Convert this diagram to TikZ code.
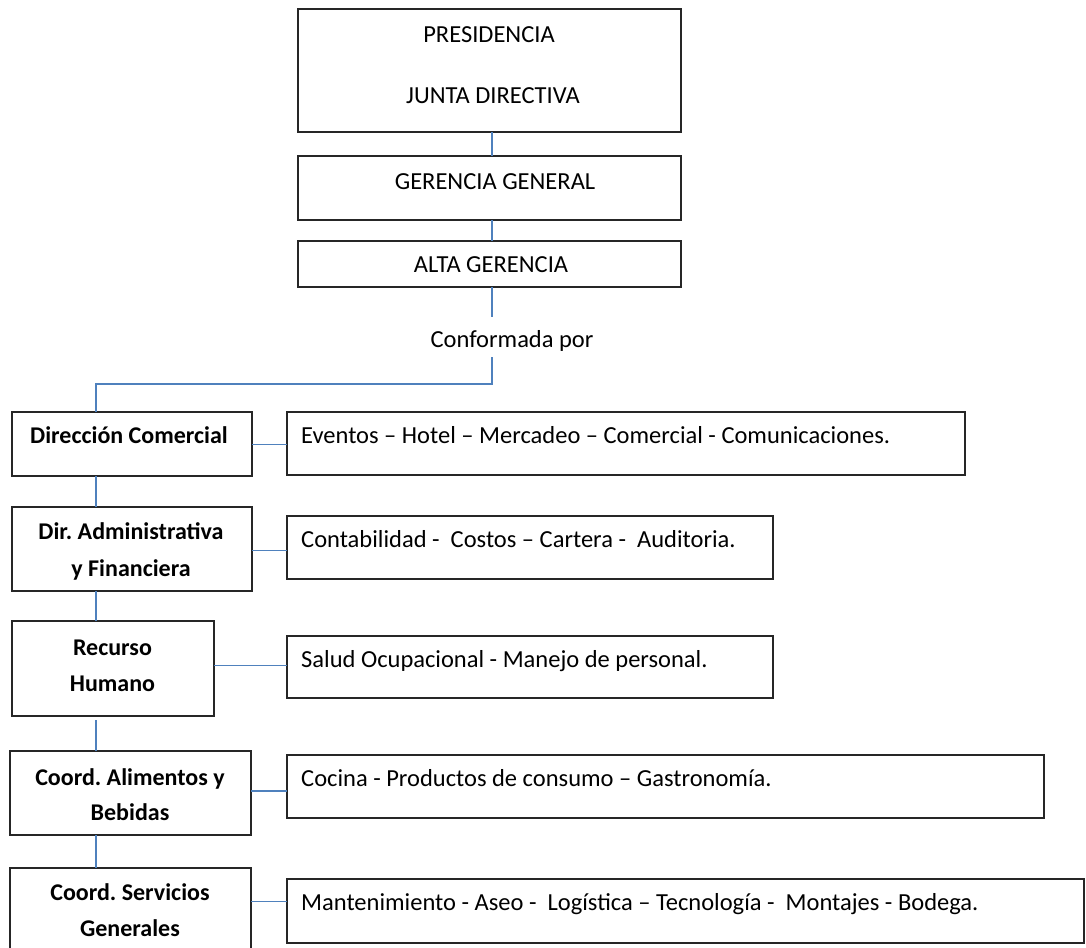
\documentclass[tikz,border=0pt]{standalone}
\usepackage{fontspec}
\setmainfont{Carlito}
\definecolor{linkblue}{HTML}{4F81BD}
\definecolor{boxgray}{HTML}{262626}
\newcommand\bx[5]{\node[box,minimum width={#4-#2},minimum height={#5-#3}] (#1) at ({(#2+#4)/2},{(#3+#5)/2}) {};}
\frenchspacing
\begin{document}
\begin{tikzpicture}[x=1pt,y=-1pt,
  box/.style={draw=boxgray,line width=1.4pt,inner sep=0pt,outer sep=0pt},
  link/.style={draw=linkblue,line width=1.2pt},
  lbl/.style={inner sep=0pt,anchor=base,font=\fontsize{24.5}{36}\selectfont},
  lbll/.style={lbl,anchor=base west},
  lblb/.style={inner sep=0pt,anchor=base,font=\fontsize{24}{36}\selectfont\bfseries}]
\useasboundingbox (0,0) rectangle (1086,947);
\clip (0,0) rectangle (1086,947);
\fill[white] (0,0) rectangle (1086,947);
% top boxes
\bx{pres}{298}{9}{681}{132}
\bx{gg}{298}{156}{681}{220}
\bx{ag}{298}{241}{681}{287}
\node[lbl] (tpres) at (489,42.7) {PRESIDENCIA};
\node[lbl] (tjunta) at (493,103.3) {JUNTA DIRECTIVA};
\node[lbl] (tgg) at (495,189.3) {GERENCIA GENERAL};
\node[lbl] (tag) at (491,272.7) {ALTA GERENCIA};
\node[lbl] (conf) at (512,347) {Conformada por};
% left boxes
\bx{dc}{12}{412}{252}{476}
\bx{da}{12}{507}{252}{591}
\bx{rh}{12}{621}{214}{716}
\bx{ca}{10}{751}{251}{835}
\bx{cs}{10}{868}{251}{962}
\node[lblb] (tdc) at (129,443.3) {Dirección Comercial};
\node[lblb] (tda1) at (131,539.3) {Dir. Administrativa};
\node[lblb] (tda2) at (131,576) {y Financiera};
\node[lblb] (trh1) at (112.5,655) {Recurso};
\node[lblb] (trh2) at (112.5,691) {Humano};
\node[lblb] (tca1) at (130,785) {Coord. Alimentos y};
\node[lblb] (tca2) at (130,820) {Bebidas};
\node[lblb] (tcs1) at (130,900.7) {Coord. Servicios};
\node[lblb] (tcs2) at (130,936.7) {Generales};
% right boxes
\bx{ev}{287}{412}{965}{475}
\bx{co}{287}{516}{773}{579}
\bx{sa}{287}{636}{773}{698}
\bx{cc}{287}{755}{1044}{818}
\bx{mt}{287}{879}{1084}{943}
\node[lbll] (tev) at (301,443) {Eventos – Hotel – Mercadeo – Comercial - Comunicaciones.};
\node[lbll] (tco) at (301,547) {Contabilidad -\ \ Costos – Cartera -\ \ Auditoria.};
\node[lbll] (tsa) at (301,667.7) {Salud Ocupacional - Manejo de personal.};
\node[lbll] (tcc) at (301,786) {Cocina - Productos de consumo – Gastronomía.};
\node[lbll] (tmt) at (301,910) {Mantenimiento - Aseo -\ \ Logística – Tecnología -\ \ Montajes - Bodega.};
% connectors
\coordinate (axis) at (492,0);
\coordinate (spine) at (96,0);
\coordinate (c1) at (492,317);
\coordinate (c2) at (492,357);
\coordinate (c3) at (492,384);
\draw[link] (pres.south -| axis) -- (gg.north -| axis);
\draw[link] (gg.south -| axis) -- (ag.north -| axis);
\draw[link] (ag.south -| axis) -- (c1);
\draw[link] (c2) -- (c3) -| (dc.north -| spine);
\draw[link] (dc.south -| spine) -- (da.north -| spine);
\draw[link] (da.south -| spine) -- (rh.north -| spine);
\draw[link] ([yshift=-4pt]rh.south -| spine) -- (ca.north -| spine);
\draw[link] (ca.south -| spine) -- (cs.north -| spine);
\draw[link] (dc.east |- 0,444.3) -- (ev.west |- 0,444.3);
\draw[link] (da.east |- 0,550.7) -- (co.west |- 0,550.7);
\draw[link] (rh.east |- 0,665.7) -- (sa.west |- 0,665.7);
\draw[link] (ca.east |- 0,791) -- (cc.west |- 0,791);
\draw[link] (cs.east |- 0,901.7) -- (mt.west |- 0,901.7);
\end{tikzpicture}
\end{document}
